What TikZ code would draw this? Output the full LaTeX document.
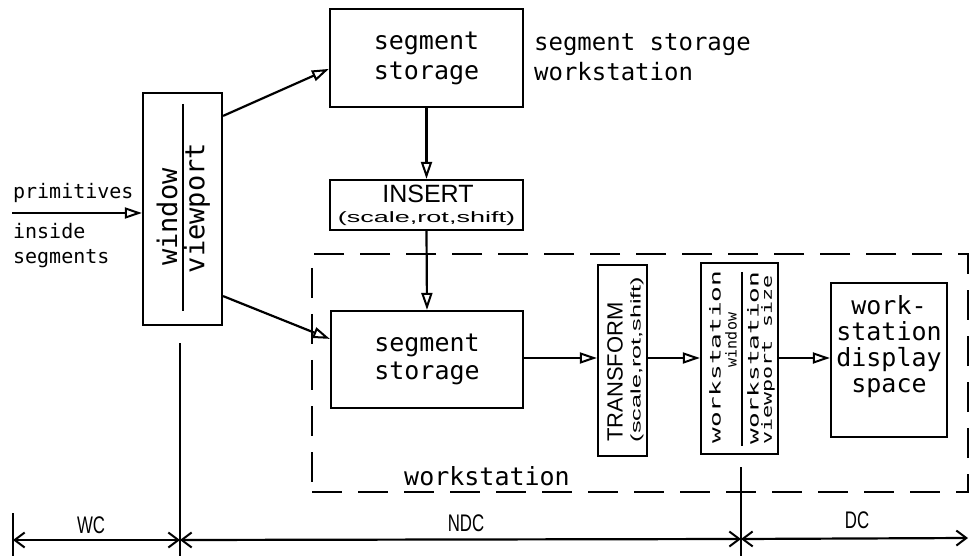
\documentclass[tikz,border=0pt]{standalone}
\usepackage{fontspec}
\setmainfont{Liberation Sans}
\newfontfamily\plotfont{DejaVu Sans Mono}
\usetikzlibrary{arrows.meta,calc}
\begin{document}
\begin{tikzpicture}[x=1pt,y=-1pt,line width=2.2pt,
  box/.style={draw,line width=2.2pt,inner sep=0pt,anchor=center,align=center},
  txt/.style={inner sep=0pt,align=center},
  flow/.style={-{Triangle[open,length=17pt,width=11pt,line width=2pt]},line width=2.2pt},
  dimtip/.style={{Straight Barb[length=10pt,width=15pt,line width=2pt]}-{Straight Barb[length=10pt,width=15pt,line width=2pt]},line width=2.2pt},
  big/.style={font=\plotfont\fontsize{25}{30}\selectfont},
  mid/.style={font=\plotfont\fontsize{20}{25}\selectfont},
  dimlab/.style={inner sep=0pt,font=\fontsize{24}{26}\selectfont}]
\useasboundingbox (0,0) rectangle (970,556);

% dashed workstation frame
\node[draw,line width=2.2pt,dash pattern=on 30pt off 16pt,minimum width=656pt,minimum height=238pt,inner sep=0pt] (wsframe) at (640,373) {};
\node[txt,big] (wslab) at (487,476) {workstation};

% window / viewport
\node[box,minimum width=79pt,minimum height=232pt] (win) at (182.5,209) {};
\draw[line width=2pt] ($(win.north)+(0,12)$) -- ($(win.south)+(0,-15)$);
\node[txt,rotate=90,font=\plotfont\fontsize{27}{30}\selectfont] (wintxt) at (167,217) {window};
\node[txt,rotate=90,font=\plotfont\fontsize{27}{30}\selectfont] (vptxt) at (197,208) {viewport};

% primitives
\node[txt,mid,anchor=west] (prim) at (12,193) {primitives};
\node[txt,mid,anchor=west,align=left] (inside) at (12,245.5) {inside\\segments};
\coordinate (p0) at (12,213);

% upper segment storage
\node[box,big,minimum width=193pt,minimum height=98pt] (ss1) at (426.5,58) {segment\\storage};
\node[txt,font=\plotfont\fontsize{24}{30}\selectfont,anchor=west,align=left] (sslab) at (533,57) {segment storage\\workstation};

% INSERT
\node[box,minimum width=193pt,minimum height=50pt] (ins) at (426.5,205) {};
\node[txt,font=\fontsize{25}{28}\selectfont] (ins1) at (428,194) {INSERT};
\node[txt] (ins2) at (426.5,219) {\scalebox{1.8}[1]{\fontsize{15}{16}\selectfont(scale,rot,shift)}};

% lower segment storage
\node[box,font=\plotfont\fontsize{25}{28}\selectfont,minimum width=192pt,minimum height=97pt] (ss2) at (427,359.5) {segment\\storage};

% TRANSFORM
\node[box,minimum width=49pt,minimum height=191pt] (trans) at (622.5,360.5) {};
\node[txt,rotate=90,font=\fontsize{22}{24}\selectfont] (tr1) at (615,372) {TRANSFORM};
\node[txt,rotate=90] (tr2) at (637,359.5) {\scalebox{1.8}[1]{\fontsize{14}{15}\selectfont(scale,rot,shift)}};

% workstation window / viewport
\node[box,minimum width=77pt,minimum height=191pt] (wsw) at (739.5,358.5) {};
\draw[line width=2pt] ($(wsw.north)+(2.5,10)$) -- ($(wsw.south)+(2.5,-9)$);
\node[txt,rotate=90] (wsw1) at (715,357) {\scalebox{1.74}[1]{\plotfont\fontsize{15}{16}\selectfont workstation}};
\node[txt,rotate=90] (wsw2) at (731,340) {\plotfont\fontsize{15}{16}\selectfont window};
\node[txt,rotate=90] (wsv1) at (753,358) {\scalebox{1.74}[1]{\plotfont\fontsize{15}{16}\selectfont workstation}};
\node[txt,rotate=90] (wsv2) at (768,360) {\scalebox{1.55}[1]{\plotfont\fontsize{14}{15}\selectfont viewport size}};

% display space
\node[box,minimum width=116pt,minimum height=154pt] (disp) at (889,360) {};
\node[txt,font=\plotfont\fontsize{25}{26}\selectfont] (disptxt) at (889,347) {work-\\station\\display\\space};

% flows
\draw[flow] (p0) -- (p0 -| win.west);
\draw[flow] ([yshift=-24pt]win.north east) -- ([yshift=-61pt]ss1.north west);
\draw[flow] ([yshift=30pt]win.south east) -- ([yshift=-29pt]ss2.north west);
\draw[flow] (ss1.south) -- (ins.north);
\draw[flow] (ins.south) -- (ss2.north);
\draw[flow] ([yshift=1.5pt]ss2.east) -- ([yshift=1.5pt]ss2.east -| trans.west);
\draw[flow] (trans.east |- 0,358) -- (wsw.west |- 0,358);
\draw[flow] (wsw.east |- 0,358) -- (disp.west |- 0,358);

% coordinate systems
\coordinate (t0a) at (13,513); \coordinate (t0b) at (13,556);
\coordinate (t1a) at (180,343); \coordinate (t1b) at (180,556);
\coordinate (t2a) at (741,467); \coordinate (t2b) at (741,556);
\coordinate (d0) at (13,540); \coordinate (d1) at (180,540);
\coordinate (d2) at (741,539); \coordinate (d3) at (968,538);
\draw[line width=2.2pt] (t0a) -- (t0b);
\draw[line width=2.2pt] (t1a) -- (t1b);
\draw[line width=2.2pt] (t2a) -- (t2b);
\draw[dimtip] (d0) -- (d1);
\draw[dimtip] (d1) -- (d2);
\draw[dimtip] (d2) -- (d3);
\node[dimlab] (wc) at (91,525) {\scalebox{0.7}[1]{WC}};
\node[dimlab] (ndc) at (466,523) {\scalebox{0.7}[1]{NDC}};
\node[dimlab] (dc) at (857,520) {\scalebox{0.7}[1]{DC}};
\end{tikzpicture}
\end{document}
